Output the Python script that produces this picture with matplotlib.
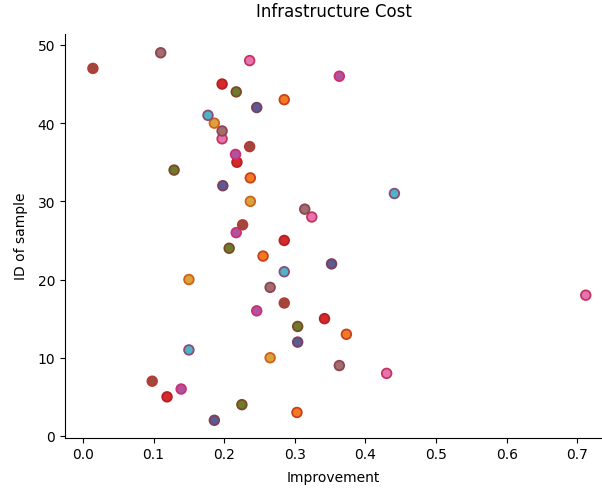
import matplotlib
matplotlib.use("Agg")
import matplotlib.pyplot as plt

improvement = [0.186, 0.303, 0.225, 0.119, 0.139, 0.098, 0.430, 0.363, 0.265, 0.150,
               0.304, 0.373, 0.304, 0.342, 0.246, 0.285, 0.712, 0.265, 0.150, 0.285,
               0.352, 0.255, 0.207, 0.285, 0.217, 0.226, 0.324, 0.314, 0.237, 0.441,
               0.198, 0.237, 0.129, 0.218, 0.216, 0.236, 0.197, 0.197, 0.186, 0.177,
               0.246, 0.285, 0.217, 0.197, 0.363, 0.014, 0.236, 0.110]
sample_id = list(range(2, 50))

face_cycle = ['#d8a23c', '#4fb3c6', '#5b5a95', '#f37a21', '#6e7a2c',
              '#d42a2a', '#b2529f', '#a2473c', '#e873b0', '#a46c6c']
edge_cycle = ['#d2601e', '#8a4c7a', '#7c3e58', '#c8401e', '#7a4a26',
              '#b81e22', '#c93070', '#b23c36', '#c2365e', '#8a4656']

faces = [face_cycle[i % 10] for i in sample_id]
edges = [edge_cycle[i % 10] for i in sample_id]

fig = plt.figure(figsize=(6.02, 4.89), dpi=100)
ax = fig.add_axes([65/602, 1-438.5/489, (602-65)/602, (438.5-35)/489])
ax.scatter(improvement, sample_id, s=48, c=faces, edgecolors=edges, linewidths=1.3, zorder=3)
ax.set_xlim(-0.0255, 0.735)
ax.set_ylim(-0.2, 51.4)
ax.set_xticks([0.0, 0.1, 0.2, 0.3, 0.4, 0.5, 0.6, 0.7])
ax.set_yticks([0, 10, 20, 30, 40, 50])
ax.spines['top'].set_visible(False)
ax.spines['right'].set_visible(False)
ax.set_title("Infrastructure Cost", pad=13)
ax.set_xlabel("Improvement", labelpad=6)
ax.set_ylabel("ID of sample", labelpad=7)
fig.savefig("out.png", dpi=100)
